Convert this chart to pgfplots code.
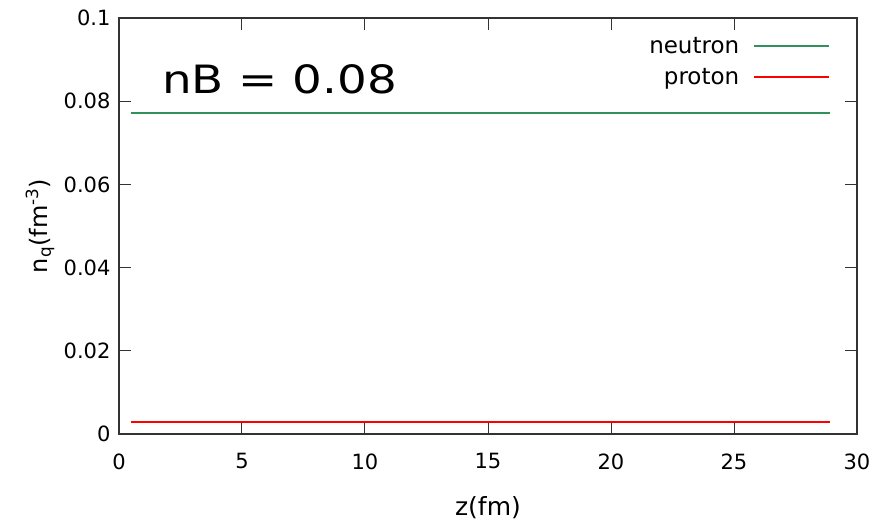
\documentclass[border=0pt]{standalone}
\usepackage{fontspec}
\setmainfont{DejaVu Sans}
\usepackage{pgfplots}
\pgfplotsset{compat=1.18}
\definecolor{ngreen}{RGB}{48,145,90}
\definecolor{pred}{RGB}{255,0,0}
\begin{document}
\begin{tikzpicture}
\useasboundingbox (-119pt,-88pt) rectangle (757pt,434pt);
\begin{axis}[
  at={(0,0)}, anchor=south west,
  scale only axis, width=738pt, height=416pt,
  xmin=0, xmax=30, ymin=0, ymax=0.1,
  xtick={0,5,10,15,20,25,30},
  ytick={0,0.02,0.04,0.06,0.08,0.1},
  yticklabels={0,0.02,0.04,0.06,0.08,0.1},
  scaled y ticks=false,
  tick align=inside, major tick length=12pt,
  tick style={black!80, line width=1pt},
  axis line style={black!80, line width=1.4pt},
  /pgf/number format/assume math mode=true,
  tick label style={font=\fontsize{21}{24}\selectfont},
  xticklabel style={yshift=-16pt},
  yticklabel style={xshift=-5pt},
  xlabel={z(fm)},
  ylabel={n\textsubscript{q}(fm\textsuperscript{-3})},
  xlabel style={font=\fontsize{25}{29}\selectfont, at={(axis description cs:0.5,-0.178)}, anchor=center},
  ylabel style={font=\fontsize{24}{28}\selectfont, at={(axis description cs:-0.107,0.5)}, anchor=center},
  legend plot pos=right,
  legend cell align=right,
  legend style={draw=none, fill=none, font=\fontsize{23}{27}\selectfont,
    at={(axis description cs:0.968,0.963)}, anchor=north east,
    row sep=9pt},
  legend image code/.code={\path (0pt,0pt); \draw[#1] (12pt,0pt) -- (87pt,0pt);},
]
\addplot[draw=ngreen, line width=2pt, mark=none] coordinates {(0.5,0.0772) (5,0.0772) (10,0.0772) (15,0.0772) (20,0.0772) (25,0.0772) (28.9,0.0772)};
\addlegendentry{neutron}
\addplot[draw=pred, line width=2pt, mark=none] coordinates {(0.5,0.003) (5,0.003) (10,0.003) (15,0.003) (20,0.003) (25,0.003) (28.9,0.003)};
\addlegendentry{proton}
\node[anchor=west, inner sep=0pt] at (axis description cs:0.058,0.853) {\scalebox{1.2}[1]{\fontsize{39}{47}\selectfont nB = 0.08}};
\end{axis}
\end{tikzpicture}
\end{document}
